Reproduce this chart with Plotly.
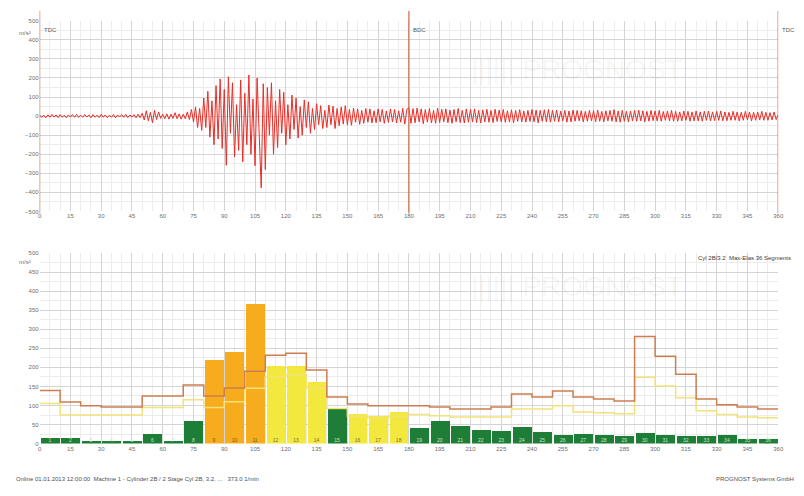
import plotly.graph_objects as go

# ---------------- data ----------------
# crank angle signal (deg 0..360, one value per degree), units m/s^2
signal_deg = list(range(0, 361))
signal_val = [
    6, -7, 5, -9, 7, -6, 9, -5, 6, -8,
    8, -6, 5, -9, 6, -5, 8, -6, 9, -7,
    5, -6, 8, -5, 6, -9, 8, -6, 5, -8,
    9, -6, 6, -8, 5, -6, 8, -9, 6, -5,
    8, -6, 9, -8, 6, -5, 8, -9, 10, -8,
    15, -20, 28, -25, 20, -35, 30, -18, 22, -12,
    10, -14, 12, -16, 10, -12, 18, -14, 12, -16,
    10, -14, 22, -18, 35, -30, 48, -60, 40, -75,
    95, -60, 130, -110, 80, -150, 160, -120, 195, -170,
    140, -258, 206, -90, 175, -215, 60, -180, 190, -240,
    120, -150, 216, -200, 90, -260, 200, -120, -376, 170,
    -280, 150, -100, 175, -200, 80, -165, 140, -90, 125,
    -150, 60, -120, 110, -70, 95, -115, 50, -100, 85,
    -60, 75, -90, 40, -70, 65, -45, 55, -65, 30,
    -60, 58, -45, 52, -65, 40, -50, 48, -42, 55,
    -45, 35, -48, 42, -32, 38, -43, 30, -38, 40,
    -32, 38, -36, 28, -35, 38, -30, 35, -38, 27,
    -33, 38, -30, 35, -36, 28, -32, 40, -42, 36,
    45, -38, 40, -35, 42, -30, 38, -40, 35, -32,
    40, -36, 30, -38, 42, -33, 36, -30, 38, -35,
    32, -38, 35, -30, 40, -34, 30, -36, 38, -32,
    35, -30, 38, -34, 30, -36, 33, -30, 36, -32,
    30, -34, 36, -28, 32, -30, 35, -33, 28, -30,
    33, -35, 30, -28, 34, -30, 27, -32, 30, -28,
    35, -30, 32, -36, 30, -27, 33, -30, 35, -32,
    30, -27, 32, -30, 26, -25, 30, -32, 27, -30,
    32, -27, 30, -25, 28, -30, 25, -27, 30, -25,
    28, -30, 32, -27, 25, -30, 28, -25, 30, -27,
    34, -30, 27, -32, 30, -27, 25, -30, 27, -25,
    30, -27, 32, -25, 28, -30, 25, -27, 30, -24,
    27, -25, 30, -27, 24, -22, 27, -25, 30, -27,
    25, -27, 22, -25, 27, -22, 25, -27, 22, -25,
    27, -25, 22, -27, 25, -22, 27, -25, 22, -24,
    25, -22, 27, -25, 22, -24, 20, -22, 25, -22,
    22, -25, 20, -22, 25, -20, 22, -25, 20, -22,
    22, -20, 25, -22, 20, -22, 18, -20, 22, -18, 8,
]

# 36 segments of 10 degrees
segment_start = list(range(0, 360, 10))
segment_labels = [str(i) for i in range(1, 37)]
segment_max = [16, 16, 8, 8, 8, 26, 8, 60, 219, 240, 365, 203,
               203, 161, 91, 78, 72, 82, 42, 60, 47, 36, 34, 44,
               31, 23, 26, 23, 21, 29, 23, 21, 21, 23, 13, 13]
alarm_limit = [139, 109, 99, 96, 96, 125, 125, 154, 125, 146, 190, 232,
               237, 193, 122, 104, 99, 99, 99, 96, 91, 91, 96, 130,
               122, 138, 122, 117, 112, 281, 229, 182, 117, 102, 96, 91]
warn_limit = [105, 75, 75, 75, 75, 95, 95, 115, 95, 110, 145, 175,
              180, 145, 92, 72, 68, 72, 76, 73, 70, 70, 70, 91,
              91, 99, 83, 81, 78, 174, 151, 120, 86, 76, 70, 68]

x_ticks = list(range(0, 361, 15))
y_ticks_top = list(range(-500, 501, 100))
y_ticks_bot = list(range(0, 501, 50))
markers = [(0, "TDC"), (180, "BDC"), (360, "TDC")]

# ---------------- colours ----------------
GREEN = "rgb(30,125,55)"
YELLOW = "rgb(242,232,62)"
ORANGE = "rgb(246,172,28)"
RED = "rgb(232,45,38)"
ALARM_LINE = "rgb(205,125,80)"
WARN_LINE = "rgb(242,226,120)"
FONT = "Liberation Sans, Arial, sans-serif"

bar_colors, label_colors = [], []
for v, a, w in zip(segment_max, alarm_limit, warn_limit):
    if v > a:
        bar_colors.append(ORANGE); label_colors.append("rgb(120,90,30)")
    elif v > w:
        bar_colors.append(YELLOW); label_colors.append("rgb(120,110,40)")
    else:
        bar_colors.append(GREEN); label_colors.append("rgb(200,230,200)")

centers = [s + 5 for s in segment_start]
edges = segment_start + [360]

fig = go.Figure()

# top: raw signal
fig.add_trace(go.Scatter(x=signal_deg, y=signal_val, mode="lines",
                         line=dict(color=RED, width=1), xaxis="x", yaxis="y",
                         hoverinfo="skip"))

# bottom: segment bars
fig.add_trace(go.Bar(x=centers, y=segment_max, width=9.2,
                     marker=dict(color=bar_colors, line=dict(width=0)),
                     xaxis="x2", yaxis="y2"))
fig.add_trace(go.Scatter(x=edges, y=warn_limit + [warn_limit[-1]], mode="lines",
                         line=dict(color=WARN_LINE, width=1.5, shape="hv"),
                         xaxis="x2", yaxis="y2"))
fig.add_trace(go.Scatter(x=edges, y=alarm_limit + [alarm_limit[-1]], mode="lines",
                         line=dict(color=ALARM_LINE, width=1.5, shape="hv"),
                         xaxis="x2", yaxis="y2"))
fig.add_trace(go.Scatter(x=centers, y=[8] * len(centers), mode="text",
                         text=segment_labels,
                         textfont=dict(size=5, color=label_colors, family=FONT),
                         xaxis="x2", yaxis="y2"))

xdom = [38 / 804, 784 / 804]
top_dom = [(496 - 211) / 496, (496 - 18) / 496]
bot_dom = [(496 - 446) / 496, (496 - 253) / 496]

axis_common = dict(showline=False, zeroline=False, ticks="",
                   tickfont=dict(size=6, color="rgb(110,110,110)", family=FONT),
                   gridcolor="rgb(212,212,212)", gridwidth=1)
MINOR = "rgb(236,236,236)"

fig.update_layout(
    width=804, height=496,
    margin=dict(l=0, r=0, t=0, b=0),
    paper_bgcolor="white", plot_bgcolor="white",
    showlegend=False,
    bargap=0,
    xaxis=dict(domain=xdom, range=[0, 360], tickvals=x_ticks, anchor="y",
               minor=dict(dtick=5, showgrid=True, gridcolor=MINOR), **axis_common),
    yaxis=dict(domain=top_dom, range=[-500, 500], tickvals=y_ticks_top, anchor="x",
               minor=dict(dtick=50, showgrid=True, gridcolor=MINOR), **axis_common),
    xaxis2=dict(domain=xdom, range=[0, 360], tickvals=x_ticks, anchor="y2",
                minor=dict(dtick=5, showgrid=True, gridcolor=MINOR), **axis_common),
    yaxis2=dict(domain=bot_dom, range=[0, 500], tickvals=y_ticks_bot, anchor="x2",
                minor=dict(dtick=25, showgrid=True, gridcolor=MINOR), **axis_common),
)

# TDC/BDC marker lines and labels
for xv, name in markers:
    fig.add_shape(type="line", xref="x", yref="paper", x0=xv, x1=xv,
                  y0=(496 - 213) / 496, y1=(496 - 8) / 496,
                  line=dict(color="rgb(215,100,70)", width=1.2))
    fig.add_annotation(x=xv, xref="x", y=(496 - 22) / 496, yref="paper",
                       text=name, showarrow=False, xanchor="left", xshift=2,
                       font=dict(size=6, color="rgb(90,90,90)", family=FONT))

# unit labels
for yy in [(496 - 25) / 496, (496 - 262) / 496]:
    fig.add_annotation(x=31 / 804, xref="paper", y=yy, yref="paper", text="m/s²",
                       showarrow=False, xanchor="right",
                       font=dict(size=6, color="rgb(110,110,110)", family=FONT))

# watermarks
for yy in [(496 - 50) / 496, (496 - 287) / 496]:
    fig.add_annotation(x=690 / 804, xref="paper", y=yy, yref="paper",
                       text="|||||| PROGNOST", showarrow=False,
                       font=dict(size=28, color="rgba(0,0,0,0.05)", family=FONT))

# header / footer texts
fig.add_annotation(x=701 / 804, xref="paper", y=(496 - 258) / 496, yref="paper",
                   text="Cyl 2B/3.2  Max-Elas 36 Segments", showarrow=False,
                   xanchor="left", font=dict(size=6, color="rgb(60,60,60)", family=FONT))
fig.add_annotation(x=12 / 804, xref="paper", y=(496 - 487) / 496, yref="paper",
                   text="Online 01.01.2013 12:00:00  Machine 1 - Cylinder 2B / 2 Stage Cyl 2B, 3.2, ...   373.0 1/min",
                   showarrow=False, xanchor="left",
                   font=dict(size=6, color="rgb(80,80,80)", family=FONT))
fig.add_annotation(x=802 / 804, xref="paper", y=(496 - 487) / 496, yref="paper",
                   text="PROGNOST Systems GmbH", showarrow=False, xanchor="right",
                   font=dict(size=6, color="rgb(80,80,80)", family=FONT))

fig.write_html("out.html")
